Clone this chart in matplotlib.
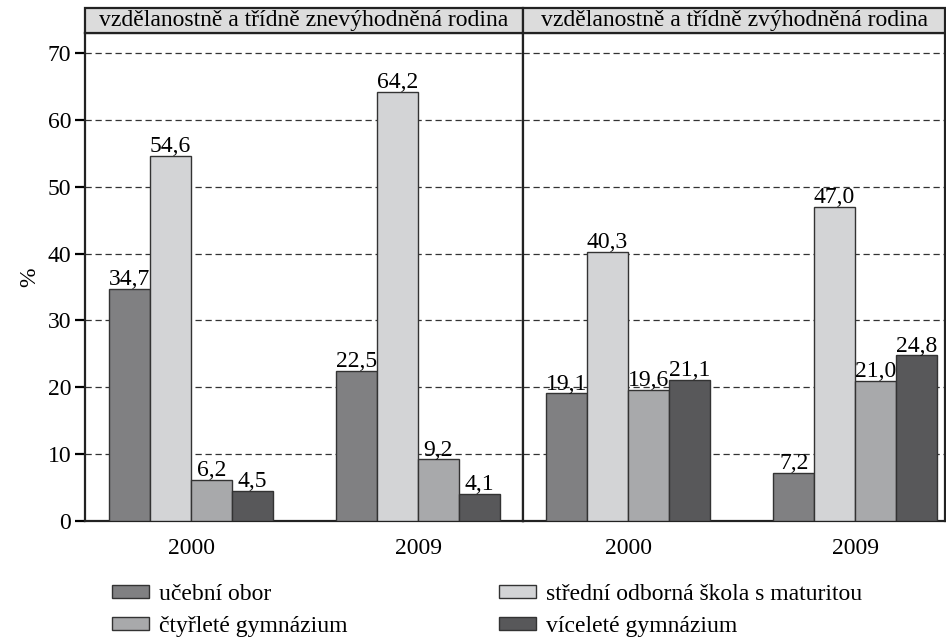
import numpy as np
import matplotlib.pyplot as plt
from matplotlib.patches import Rectangle, Patch

plt.rcParams['font.family'] = ['Liberation Serif', 'DejaVu Serif']

years = ["2000", "2009"]
panels = ["vzdělanostně a třídně znevýhodněná rodina",
          "vzdělanostně a třídně zvýhodněná rodina"]
series = ["učební obor", "střední odborná škola s maturitou",
          "čtyřleté gymnázium", "víceleté gymnázium"]
colors = ["#808082", "#d3d4d6", "#a8a9ab", "#58585a"]

# values[series][panel] -> per year
ucebni = [[34.7, 22.5], [19.1, 7.2]]
sos = [[54.6, 64.2], [40.3, 47.0]]
ctyrlete = [[6.2, 9.2], [19.6, 21.0]]
vicelete = [[4.5, 4.1], [21.1, 24.8]]
values = [ucebni, sos, ctyrlete, vicelete]

fs = 17
W, H = 946, 639
fig = plt.figure(figsize=(W / 100, H / 100), dpi=100)

x0, xm, x1 = 85, 523, 945
ytop, ybot = 33, 521
bottom = (H - ybot) / H
height = (ybot - ytop) / H
ax_l = fig.add_axes([x0 / W, bottom, (xm - x0) / W, height])
ax_r = fig.add_axes([xm / W, bottom, (x1 - xm) / W, height])

group_px = 227.0
xlims = [((x0 - 191) / group_px, (xm - 191) / group_px),
         ((xm - 628) / group_px, (x1 - 628) / group_px)]
ymax = 70 * (ybot - ytop) / (ybot - 53)

w = 0.18
x = np.arange(len(years))
for p, ax in enumerate([ax_l, ax_r]):
    for i in range(4):
        vals = values[i][p]
        bars = ax.bar(x + (i - 1.5) * w, vals, w, color=colors[i],
                      edgecolor="#333333", linewidth=1.0, zorder=3)
        for b, v in zip(bars, vals):
            ax.annotate(f"{v:.1f}".replace(".", ","),
                        (b.get_x() + b.get_width() / 2, v),
                        xytext=(0, -1), textcoords="offset points",
                        ha="center", va="bottom", fontsize=fs, zorder=4)
    ax.set_xlim(*xlims[p])
    ax.set_ylim(0, ymax)
    ax.set_yticks(range(0, 71, 10))
    ax.yaxis.grid(True, linestyle=(0, (5, 3)), color="#333333", linewidth=0.9)
    ax.set_axisbelow(True)
    ax.set_xticks(x)
    ax.set_xticklabels(years, fontsize=fs)
    ax.tick_params(axis="x", length=0, pad=12)
    for s in ["left", "right", "bottom", "top"]:
        ax.spines[s].set_linewidth(1.6)
        ax.spines[s].set_color("#222222")
    # header strip
    hh = 25 / (ybot - ytop)
    ax.add_patch(Rectangle((0, 1), 1, hh, transform=ax.transAxes,
                           facecolor="#dcdcdc", edgecolor="#222222",
                           linewidth=1.6, clip_on=False, zorder=5))
    ax.text(0.5, 1 + hh / 2, panels[p], transform=ax.transAxes,
            ha="center", va="center", fontsize=fs, zorder=6)

ax_l.tick_params(axis="y", labelsize=fs, length=7, width=1.6, pad=3)
ax_l.set_ylabel("%", fontsize=fs, labelpad=5)
ax_r.tick_params(axis="y", left=False, labelleft=False)

handles = [Patch(facecolor=c, edgecolor="#333333", linewidth=1.0) for c in colors]
kw = dict(frameon=False, fontsize=fs, handlelength=1.55, handleheight=0.45,
          handletextpad=0.45, labelspacing=0.45, borderpad=0, borderaxespad=0)
fig.legend([handles[0], handles[2]], [series[0], series[2]],
           loc="upper left", bbox_to_anchor=(112 / W, 1 - 584 / H), **kw)
fig.legend([handles[1], handles[3]], [series[1], series[3]],
           loc="upper left", bbox_to_anchor=(499 / W, 1 - 584 / H), **kw)

plt.savefig("out.png", dpi=100)
